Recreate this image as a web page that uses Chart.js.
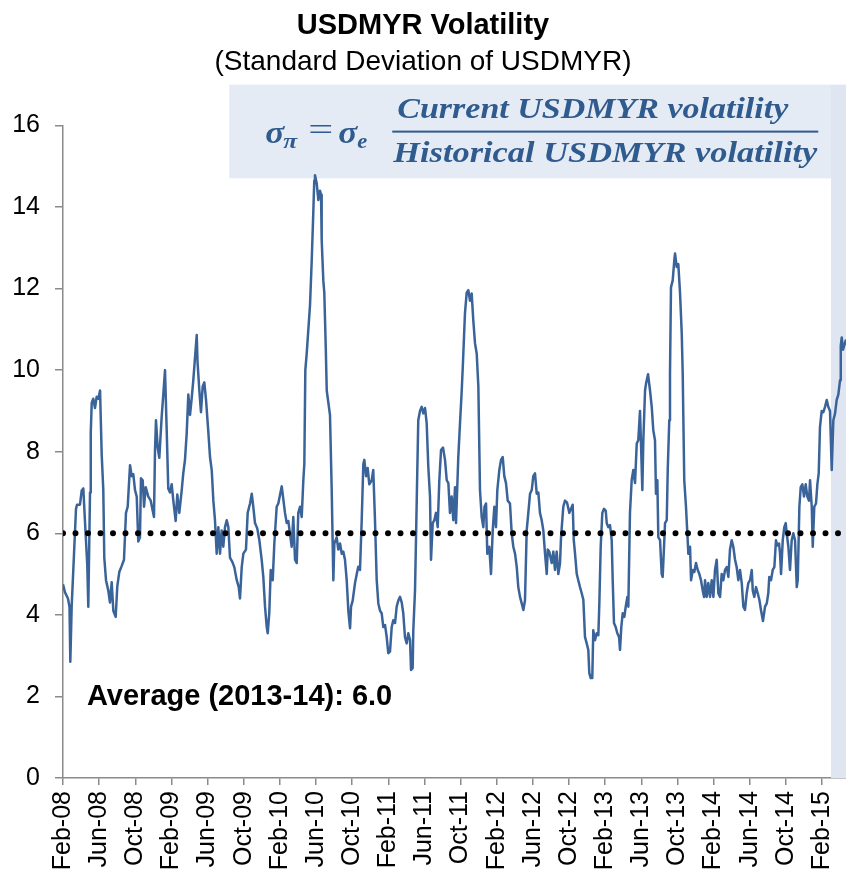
<!DOCTYPE html>
<html>
<head>
<meta charset="utf-8">
<title>USDMYR Volatility</title>
<script src="https://cdn.jsdelivr.net/npm/chart.js@4/dist/chart.umd.min.js"></script>
<style>
    html, body { margin: 0; padding: 0; background: #ffffff; }
    #wrap { width: 846px; height: 880px; position: relative; }
</style>
</head>
<body>
<div id="wrap"><canvas id="volChart"></canvas></div>
<script>
/* ==========================================================
   USDMYR volatility chart
========================================================== */

// months elapsed since Feb-08 for each reading
const monthsSinceStart = [
    0, 0.22, 0.55, 0.72, 0.81, 0.96, 1.22, 1.44, 1.55, 1.88,
    2.07, 2.25, 2.43, 2.69, 2.80, 2.99, 3.07, 3.18, 3.35, 3.54,
    3.73, 3.91, 4.10, 4.28, 4.46, 4.57, 4.76, 5.01, 5.20, 5.39,
    5.57, 5.83, 6.01, 6.23, 6.50, 6.75, 6.97, 7.16, 7.42, 7.60,
    7.78, 7.97, 8.16, 8.33, 8.52, 8.63, 8.82, 8.97, 9.15, 9.44,
    9.71, 9.93, 10.07, 10.18, 10.29, 10.48, 10.66, 10.92, 11.10, 11.29,
    11.48, 11.65, 11.84, 12.03, 12.21, 12.47, 12.65, 12.87, 13.14, 13.31,
    13.50, 13.69, 13.87, 14.06, 14.24, 14.42, 14.80, 14.89, 15.09, 15.27,
    15.46, 15.64, 15.83, 16.08, 16.27, 16.46, 16.64, 16.82, 17.01, 17.19,
    17.38, 17.56, 17.74, 17.93, 18.12, 18.30, 18.48, 18.74, 18.96, 19.23,
    19.45, 19.59, 19.78, 19.96, 20.25, 20.44, 20.70, 20.89, 21.06, 21.25,
    21.50, 21.73, 21.99, 22.17, 22.36, 22.55, 22.66, 22.83, 22.99, 23.21,
    23.39, 23.65, 23.83, 24.21, 24.57, 24.76, 24.94, 25.31, 25.49, 25.68,
    25.87, 26.04, 26.23, 26.42, 26.60, 26.71, 26.82, 26.97, 27.34, 27.53,
    27.70, 27.81, 27.89, 28.08, 28.26, 28.44, 28.56, 28.63, 28.81, 28.92,
    29.08, 29.19, 29.55, 29.74, 29.92, 30.03, 30.29, 30.47, 30.66, 30.85,
    31.02, 31.21, 31.40, 31.58, 31.77, 31.88, 32.06, 32.32, 32.51, 32.68,
    32.87, 33.06, 33.24, 33.35, 33.54, 33.72, 33.90, 34.17, 34.34, 34.53,
    34.72, 34.90, 35.09, 35.27, 35.45, 35.64, 35.83, 36.00, 36.19, 36.38,
    36.56, 36.75, 36.93, 37.11, 37.30, 37.49, 37.66, 37.85, 38.04, 38.22,
    38.41, 38.52, 38.70, 38.77, 38.96, 39.15, 39.32, 39.51, 39.70, 39.88,
    40.07, 40.25, 40.43, 40.62, 40.73, 40.92, 41.10, 41.28, 41.47, 41.65,
    41.84, 42.06, 42.28, 42.47, 42.65, 42.83, 43.02, 43.20, 43.39, 43.50,
    43.75, 43.94, 44.13, 44.27, 44.49, 44.68, 44.86, 45.05, 45.23, 45.41,
    45.60, 45.79, 45.97, 46.15, 46.34, 46.52, 46.65, 46.82, 46.96, 47.18,
    47.37, 47.56, 47.74, 47.92, 48.07, 48.29, 48.48, 48.67, 48.84, 49.03,
    49.22, 49.47, 49.66, 49.84, 50.03, 50.22, 50.39, 50.58, 50.77, 50.95,
    51.13, 51.32, 51.50, 51.69, 51.88, 52.05, 52.24, 52.43, 52.61, 52.79,
    52.98, 53.16, 53.35, 53.54, 53.65, 53.82, 54.09, 54.27, 54.45, 54.64,
    54.82, 55.01, 55.12, 55.37, 55.56, 55.79, 56.04, 56.23, 56.41, 56.53,
    56.67, 56.86, 57.03, 57.22, 57.41, 57.59, 57.77, 57.96, 58.14, 58.25,
    58.41, 58.58, 58.69, 58.88, 59.07, 59.25, 59.36, 59.51, 59.69, 59.88,
    60.07, 60.18, 60.35, 60.54, 60.73, 60.84, 60.98, 61.17, 61.35, 61.54,
    61.65, 61.79, 61.95, 62.13, 62.28, 62.46, 62.57, 62.75, 62.94, 63.12,
    63.31, 63.50, 63.67, 63.86, 63.97, 64.12, 64.23, 64.42, 64.53, 64.75,
    64.97, 65.16, 65.33, 65.52, 65.63, 65.78, 65.89, 66.08, 66.26, 66.37,
    66.52, 66.63, 66.82, 66.93, 67.10, 67.18, 67.29, 67.48, 67.66, 67.74,
    67.92, 68.10, 68.29, 68.48, 68.59, 68.65, 68.76, 68.95, 69.10, 69.21,
    69.40, 69.51, 69.70, 69.87, 70.06, 70.25, 70.43, 70.61, 70.80, 70.95,
    71.06, 71.24, 71.42, 71.61, 71.80, 71.98, 72.16, 72.35, 72.53, 72.72,
    72.90, 73.08, 73.27, 73.46, 73.64, 73.82, 74.01, 74.19, 74.38, 74.56,
    74.74, 74.93, 75.12, 75.30, 75.48, 75.67, 75.85, 76.04, 76.23, 76.34,
    76.51, 76.70, 76.89, 77.07, 77.25, 77.47, 77.70, 77.89, 78.06, 78.17,
    78.36, 78.55, 78.73, 78.91, 79.06, 79.25, 79.36, 79.47, 79.66, 79.83,
    79.99, 80.10, 80.28, 80.46, 80.65, 80.83, 81.02, 81.21, 81.32, 81.50,
    81.65, 81.83, 82.01, 82.20, 82.38, 82.57, 82.68, 82.87, 82.98, 83.15,
    83.34, 83.49, 83.64, 83.78, 83.97, 84.15, 84.34, 84.53, 84.70, 84.89,
    85.08, 85.26, 85.45, 85.63, 85.81, 86.00, 86.08, 86.19, 86.33, 86.66
];

// standard deviation of USDMYR
const volatility = [
    4.75, 4.55, 4.4, 4.2, 2.85, 4.2, 5.5, 6.6, 6.7, 6.7,
    7.05, 7.1, 6.3, 5.2, 4.2, 7.0, 8.45, 9.2, 9.3, 9.07,
    9.35, 9.3, 9.5, 7.95, 7.06, 5.4, 4.85, 4.6, 4.3, 4.8,
    4.1, 3.95, 4.7, 5.05, 5.2, 5.35, 6.5, 6.65, 7.67, 7.4,
    7.45, 7.06, 6.9, 5.8, 5.9, 7.35, 7.3, 6.65, 7.13, 6.9,
    6.8, 6.55, 6.4, 8.0, 8.77, 8.1, 7.85, 8.85, 9.4, 10.0,
    8.5, 7.1, 7.0, 7.2, 6.8, 6.3, 6.95, 6.5, 7.06, 7.47,
    7.8, 8.45, 9.4, 8.9, 9.3, 9.75, 10.86, 10.2, 9.5, 8.97,
    9.6, 9.7, 9.27, 8.5, 7.87, 7.55, 6.8, 6.32, 5.5, 6.15,
    5.5, 6.07, 5.67, 6.15, 6.32, 6.15, 5.4, 5.3, 5.17, 4.85,
    4.68, 4.4, 5.17, 5.5, 5.6, 6.5, 6.73, 6.97, 6.65, 6.25,
    6.12, 5.83, 5.35, 4.93, 4.2, 3.7, 3.55, 4.04, 5.1, 4.85,
    5.75, 6.65, 6.73, 7.15, 6.5, 6.25, 6.3, 5.67, 6.4, 5.35,
    5.27, 6.5, 6.65, 6.4, 7.3, 7.7, 10.0, 10.4, 11.6, 12.7,
    13.85, 14.65, 14.78, 14.58, 14.17, 14.4, 14.3, 13.2, 12.2, 11.9,
    10.57, 9.5, 8.9, 7.06, 4.85, 5.75, 5.9, 5.6, 5.75, 5.5,
    5.55, 5.35, 4.85, 4.1, 3.67, 4.2, 4.35, 4.78, 5.0, 5.18,
    5.1, 6.32, 7.7, 7.8, 7.4, 7.6, 7.2, 7.3, 7.55, 6.32,
    4.85, 4.28, 4.1, 4.04, 3.7, 3.75, 3.45, 3.06, 3.1, 3.7,
    3.87, 3.8, 4.2, 4.35, 4.44, 4.3, 4.04, 3.45, 3.3, 3.55,
    3.38, 2.65, 2.7, 3.62, 4.6, 6.8, 8.77, 9.0, 9.1, 8.94,
    9.07, 8.7, 7.63, 6.9, 5.35, 6.25, 6.32, 6.5, 6.15, 7.3,
    8.04, 8.1, 7.8, 7.3, 7.23, 6.5, 6.9, 6.32, 7.13, 6.25,
    7.87, 8.7, 9.5, 10.2, 11.4, 11.9, 11.96, 11.7, 11.88, 11.22,
    10.66, 10.4, 9.6, 7.06, 6.4, 6.15, 6.65, 6.73, 5.5, 5.67,
    5.0, 6.07, 6.65, 6.15, 7.06, 7.55, 7.8, 7.87, 7.4, 7.23,
    6.8, 6.73, 6.0, 5.67, 5.5, 5.17, 4.68, 4.44, 4.28, 4.12,
    4.35, 6.07, 6.5, 6.97, 7.06, 7.4, 7.47, 6.97, 7.0, 6.5,
    6.32, 6.07, 5.5, 5.0, 5.6, 5.55, 5.27, 5.55, 5.1, 5.55,
    5.0, 5.27, 5.9, 6.65, 6.8, 6.75, 6.5, 6.6, 6.7, 5.83,
    5.5, 5.0, 4.85, 4.68, 4.53, 4.37, 3.46, 3.3, 3.14, 2.57,
    2.45, 2.45, 3.62, 3.38, 3.55, 3.5, 4.28, 5.67, 6.5, 6.6,
    6.55, 6.25, 6.15, 6.2, 5.83, 4.85, 3.8, 3.7, 3.55, 3.46,
    3.14, 3.7, 4.04, 3.95, 4.2, 4.44, 4.2, 6.5, 7.3, 7.55,
    7.23, 8.2, 8.28, 9.0, 8.2, 7.06, 8.28, 9.5, 9.67, 9.9,
    9.5, 9.1, 8.53, 8.28, 6.97, 7.3, 5.9, 5.83, 5.0, 4.93,
    5.67, 6.25, 6.32, 7.55, 8.77, 9.9, 12.03, 12.2, 12.7, 12.86,
    12.53, 12.6, 11.9, 10.9, 9.9, 8.94, 7.3, 6.65, 6.0, 5.5,
    5.67, 4.85, 5.1, 5.05, 5.27, 5.1, 5.0, 4.85, 4.6, 4.44,
    4.85, 4.44, 4.78, 4.44, 4.85, 4.44, 5.1, 5.35, 4.53, 4.44,
    5.0, 4.85, 5.1, 5.17, 4.93, 5.6, 5.83, 5.67, 5.35, 5.17,
    4.85, 5.1, 4.78, 4.2, 4.12, 4.53, 4.78, 4.85, 5.1, 4.6,
    4.44, 4.68, 4.53, 4.37, 4.12, 3.85, 4.2, 4.28, 4.53, 4.93,
    4.85, 5.1, 5.17, 5.83, 5.7, 5.75, 5.5, 5.0, 5.83, 6.15,
    6.25, 6.0, 5.67, 5.1, 5.83, 6.0, 5.83, 4.68, 4.85, 6.65,
    7.13, 7.2, 6.9, 7.2, 6.9, 6.8, 7.3, 6.65, 5.67, 6.65,
    6.73, 7.2, 7.47, 8.6, 9.0, 8.97, 9.1, 9.27, 9.1, 9.0,
    7.55, 8.77, 8.94, 9.27, 9.4, 9.75, 10.6, 10.8, 10.5, 10.75
];

// x axis labels, one every 4 months from Feb-08
const tickLabels = [
    "Feb-08", "Jun-08", "Oct-08", "Feb-09", "Jun-09", "Oct-09",
    "Feb-10", "Jun-10", "Oct-10", "Feb-11", "Jun-11", "Oct-11",
    "Feb-12", "Jun-12", "Oct-12", "Feb-13", "Jun-13", "Oct-13",
    "Feb-14", "Jun-14", "Oct-14", "Feb-15"
];

// 2013-14 average, drawn across the whole period
const averageMonths = [0, 86.66];
const averageLevel = [6.0, 6.0];

// start of the shaded recent period (Mar-15)
const shadeStartMonth = 85;

const LINE_BLUE = "#3a6399";
const FORMULA_BLUE = "#2f5b8e";
const AXIS_GREY = "#8a8a8a";
const SANS = "'Liberation Sans', Arial, sans-serif";
const SERIF = "'Liberation Serif', 'Times New Roman', serif";

Chart.defaults.font.family = SANS;
Chart.defaults.color = "#000000";

// =====================================
// Draw text squeezed to a given width
// =====================================

function fitText(ctx, text, left, baseline, width, font) {

    ctx.font = font;

    const measured = ctx.measureText(text).width;

    ctx.save();
    ctx.translate(left, baseline);
    ctx.scale(width / measured, 1);
    ctx.fillText(text, 0, 0);
    ctx.restore();

}

// =====================================
// Shading, formula box, average label
// =====================================

const overlayPlugin = {

    id: "overlay",

    beforeDatasetsDraw(chart) {

        const { ctx, chartArea, scales } = chart;

        const bandLeft = scales.x.getPixelForValue(shadeStartMonth);
        const boxLeft = scales.x.getPixelForValue(18.4);
        const boxTop = scales.y.getPixelForValue(17.0);
        const boxBottom = scales.y.getPixelForValue(14.7);

        ctx.save();

        ctx.fillStyle = "#dfe6f1";
        ctx.fillRect(bandLeft, boxTop, chartArea.right - bandLeft, chartArea.bottom - boxTop);

        ctx.fillStyle = "#e5ebf5";
        ctx.fillRect(boxLeft, boxTop, bandLeft - boxLeft, boxBottom - boxTop);

        ctx.restore();

    },

    afterDraw(chart) {

        const { ctx, chartArea, scales } = chart;

        const left = scales.x.getPixelForValue(18.4);
        const top = scales.y.getPixelForValue(17.0);

        ctx.save();

        // formula
        ctx.fillStyle = FORMULA_BLUE;
        ctx.textBaseline = "alphabetic";
        ctx.textAlign = "left";

        fitText(ctx, "σ", left + 36, top + 58, 19, "bold italic 32px " + SERIF);
        fitText(ctx, "π", left + 54, top + 63, 14, "bold italic 21px " + SERIF);
        fitText(ctx, "=", left + 79, top + 55, 25, "32px " + SERIF);
        fitText(ctx, "σ", left + 109, top + 58, 19, "bold italic 32px " + SERIF);
        fitText(ctx, "e", left + 128, top + 63, 10, "bold italic 21px " + SERIF);

        fitText(ctx, "Current USDMYR volatility", left + 168, top + 33, 391, "bold italic 30px " + SERIF);
        ctx.fillRect(left + 163, top + 46, 426, 2);
        fitText(ctx, "Historical USDMYR volatility", left + 164, top + 77, 424, "bold italic 30px " + SERIF);

        // average label
        ctx.fillStyle = "#000000";
        ctx.font = "bold 29px " + SANS;
        ctx.fillText("Average (2013-14): " + averageLevel[0].toFixed(1), chartArea.left + 24, 705);

        ctx.restore();

    }

};

// =====================================
// Chart
// =====================================

const volPoints = monthsSinceStart.map((m, i) => ({ x: m, y: volatility[i] }));
const avgPoints = averageMonths.map((m, i) => ({ x: m, y: averageLevel[i] }));

const chart = new Chart(document.getElementById("volChart"), {

    type: "line",

    data: {

        datasets: [

            {
                label: "Average (2013-14)",
                data: avgPoints,
                borderColor: "#000000",
                borderWidth: 6,
                borderDash: [0, 12.5],
                borderCapStyle: "round",
                pointRadius: 0,
                order: 0
            },

            {
                label: "USDMYR volatility",
                data: volPoints,
                borderColor: LINE_BLUE,
                borderWidth: 2.5,
                borderJoinStyle: "round",
                pointRadius: 0,
                tension: 0,
                order: 1
            }

        ]

    },

    options: {

        responsive: true,
        maintainAspectRatio: false,
        animation: false,
        layout: { padding: 0 },

        plugins: {

            legend: { display: false },
            tooltip: { enabled: false },

            title: {
                display: true,
                text: "USDMYR Volatility",
                font: { size: 29, weight: "bold" },
                color: "#000000",
                padding: { top: 9, bottom: 2 }
            },

            subtitle: {
                display: true,
                text: "(Standard Deviation of USDMYR)",
                font: { size: 28, weight: "normal" },
                color: "#000000",
                padding: { top: 0, bottom: 46 }
            }

        },

        scales: {

            x: {
                type: "linear",
                min: 0,
                max: 86.66,
                afterFit(scale) {
                    scale.height = 102;
                    scale.paddingLeft = 0;
                    scale.paddingRight = 0;
                },
                grid: {
                    drawOnChartArea: false,
                    drawTicks: true,
                    tickLength: 7,
                    color: AXIS_GREY,
                    lineWidth: 1.5
                },
                border: { color: AXIS_GREY, width: 1.5 },
                ticks: {
                    stepSize: 4,
                    includeBounds: false,
                    autoSkip: false,
                    maxRotation: 90,
                    minRotation: 90,
                    padding: 6,
                    font: { size: 25 },
                    color: "#000000",
                    callback: value => tickLabels[Math.round(value / 4)]
                }
            },

            y: {
                min: 0,
                max: 16,
                afterFit(scale) {
                    scale.width = 63;
                    scale.paddingTop = 0;
                    scale.paddingBottom = 0;
                },
                grid: {
                    drawOnChartArea: false,
                    drawTicks: true,
                    tickLength: 8,
                    color: AXIS_GREY,
                    lineWidth: 1.5
                },
                border: { color: AXIS_GREY, width: 1.5 },
                ticks: {
                    stepSize: 2,
                    padding: 15,
                    font: { size: 25 },
                    color: "#000000"
                }
            }

        }

    },

    plugins: [overlayPlugin]

});
</script>
</body>
</html>
